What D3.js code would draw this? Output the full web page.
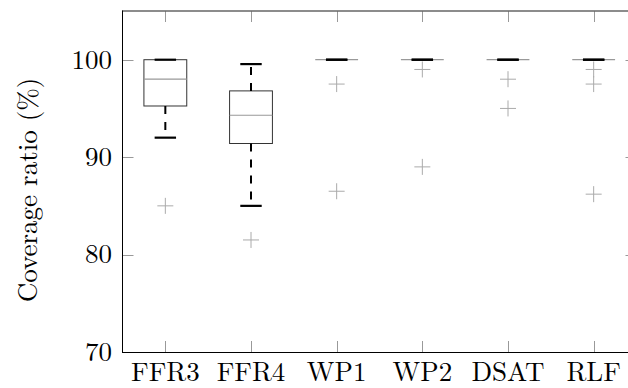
<!DOCTYPE html>
<html>
<head>
<meta charset="utf-8">
<script src="https://cdn.jsdelivr.net/npm/d3@7"></script>
<style>
  html, body { margin: 0; padding: 0; background: #fff; }
  svg { display: block; }
</style>
</head>
<body>
<script>
const categories = ["FFR3", "FFR4", "WP1", "WP2", "DSAT", "RLF"];
const lowerWhisker = [92.0, 85.0, 100, 100, 100, 100];
const q1Values = [95.25, 91.4, 100, 100, 100, 100];
const medianValues = [98.0, 94.3, 100, 100, 100, 100];
const q3Values = [100, 96.8, 100, 100, 100, 100];
const upperWhisker = [100, 99.55, 100, 100, 100, 100];
const outlierValues = [[85], [81.5], [97.5, 86.5], [99, 89], [98, 95], [99, 97.5, 86.2]];
const yTicks = [70, 80, 90, 100];
const yLabel = "Coverage ratio (%)";

const FONT = "'Latin Modern Roman', 'Liberation Serif', serif";
const FS = 27;
const W = 628, H = 388;
const svg = d3.select("body").append("svg").attr("width", W).attr("height", H);

const x = d3.scaleLinear().domain([0.5, categories.length + 0.5]).range([122.5, 636.5]);
const y = d3.scaleLinear().domain([70, 105]).range([352, 11]);
const boxHalf = 0.25, capHalf = 0.125;
const pos = (i) => i + 1;

// ticks (inward, gray)
const tickLen = 11;
const g = svg.append("g");
yTicks.forEach(t => {
  g.append("line").attr("x1", x(0.5)).attr("x2", x(0.5) + tickLen)
    .attr("y1", Math.round(y(t)) + 0.5).attr("y2", Math.round(y(t)) + 0.5)
    .attr("stroke", "#999").attr("stroke-width", 1);
  g.append("line").attr("x1", x(6.5)).attr("x2", x(6.5) - tickLen)
    .attr("y1", Math.round(y(t)) + 0.5).attr("y2", Math.round(y(t)) + 0.5)
    .attr("stroke", "#999").attr("stroke-width", 1);
});
categories.forEach((c, i) => {
  const cx = Math.round(x(pos(i))) + 0.5;
  g.append("line").attr("x1", cx).attr("x2", cx).attr("y1", y(70)).attr("y2", y(70) - tickLen)
    .attr("stroke", "#999").attr("stroke-width", 1);
  g.append("line").attr("x1", cx).attr("x2", cx).attr("y1", y(105)).attr("y2", y(105) + tickLen)
    .attr("stroke", "#999").attr("stroke-width", 1);
});

// frame
svg.append("line").attr("x1", x(0.5)).attr("x2", x(6.5)).attr("y1", y(105)).attr("y2", y(105))
  .attr("stroke", "#666").attr("stroke-width", 1.3);
svg.append("line").attr("x1", x(0.5)).attr("x2", x(6.5)).attr("y1", y(70) + 0.5).attr("y2", y(70) + 0.5)
  .attr("stroke", "#000").attr("stroke-width", 1);
svg.append("line").attr("x1", Math.round(x(0.5)) - 0.5).attr("x2", Math.round(x(0.5)) - 0.5)
  .attr("y1", y(105) - 0.6).attr("y2", y(70) + 1)
  .attr("stroke", "#000").attr("stroke-width", 1);

// boxes
const boxes = svg.append("g");
categories.forEach((c, i) => {
  const p = pos(i);
  const x0 = x(p - boxHalf), x1 = x(p + boxHalf);
  boxes.append("rect")
    .attr("x", x0).attr("y", y(q3Values[i]))
    .attr("width", x1 - x0).attr("height", Math.max(0, y(q1Values[i]) - y(q3Values[i])))
    .attr("fill", "none").attr("stroke", "#333").attr("stroke-width", 1);
  boxes.append("line").attr("x1", x0).attr("x2", x1)
    .attr("y1", y(medianValues[i])).attr("y2", y(medianValues[i]))
    .attr("stroke", "#999").attr("stroke-width", 1.2);
  [[q3Values[i], upperWhisker[i]], [q1Values[i], lowerWhisker[i]]].forEach(([from, to]) => {
    if (from !== to) {
      boxes.append("line").attr("x1", x(p)).attr("x2", x(p))
        .attr("y1", y(from)).attr("y2", y(to))
        .attr("stroke", "#000").attr("stroke-width", 2).attr("stroke-dasharray", "8,8");
    }
    boxes.append("line").attr("x1", x(p - capHalf)).attr("x2", x(p + capHalf))
      .attr("y1", y(to)).attr("y2", y(to))
      .attr("stroke", "#000").attr("stroke-width", 2.2);
  });
  outlierValues[i].forEach(v => {
    const cx = x(p), cy = y(v), r = 8;
    boxes.append("line").attr("x1", cx - r).attr("x2", cx + r).attr("y1", cy).attr("y2", cy)
      .attr("stroke", "#aaa").attr("stroke-width", 1);
    boxes.append("line").attr("x1", cx).attr("x2", cx).attr("y1", cy - r).attr("y2", cy + r)
      .attr("stroke", "#aaa").attr("stroke-width", 1);
  });
});

// tick labels
yTicks.forEach(t => {
  svg.append("text").attr("x", 112).attr("y", y(t) + 8.8)
    .attr("font-family", FONT)
    .attr("text-anchor", "end").attr("font-size", FS).attr("fill", "#000").text(t);
});
categories.forEach((c, i) => {
  svg.append("text").attr("x", x(pos(i))).attr("y", 380.5)
    .attr("font-family", FONT)
    .attr("text-anchor", "middle").attr("font-size", FS).attr("fill", "#000").text(c);
});

// y label
svg.append("text")
  .attr("transform", `translate(37, 190) rotate(-90)`)
  .attr("font-family", FONT)
  .attr("text-anchor", "middle").attr("font-size", FS).attr("fill", "#000").text(yLabel);
</script>
</body>
</html>
